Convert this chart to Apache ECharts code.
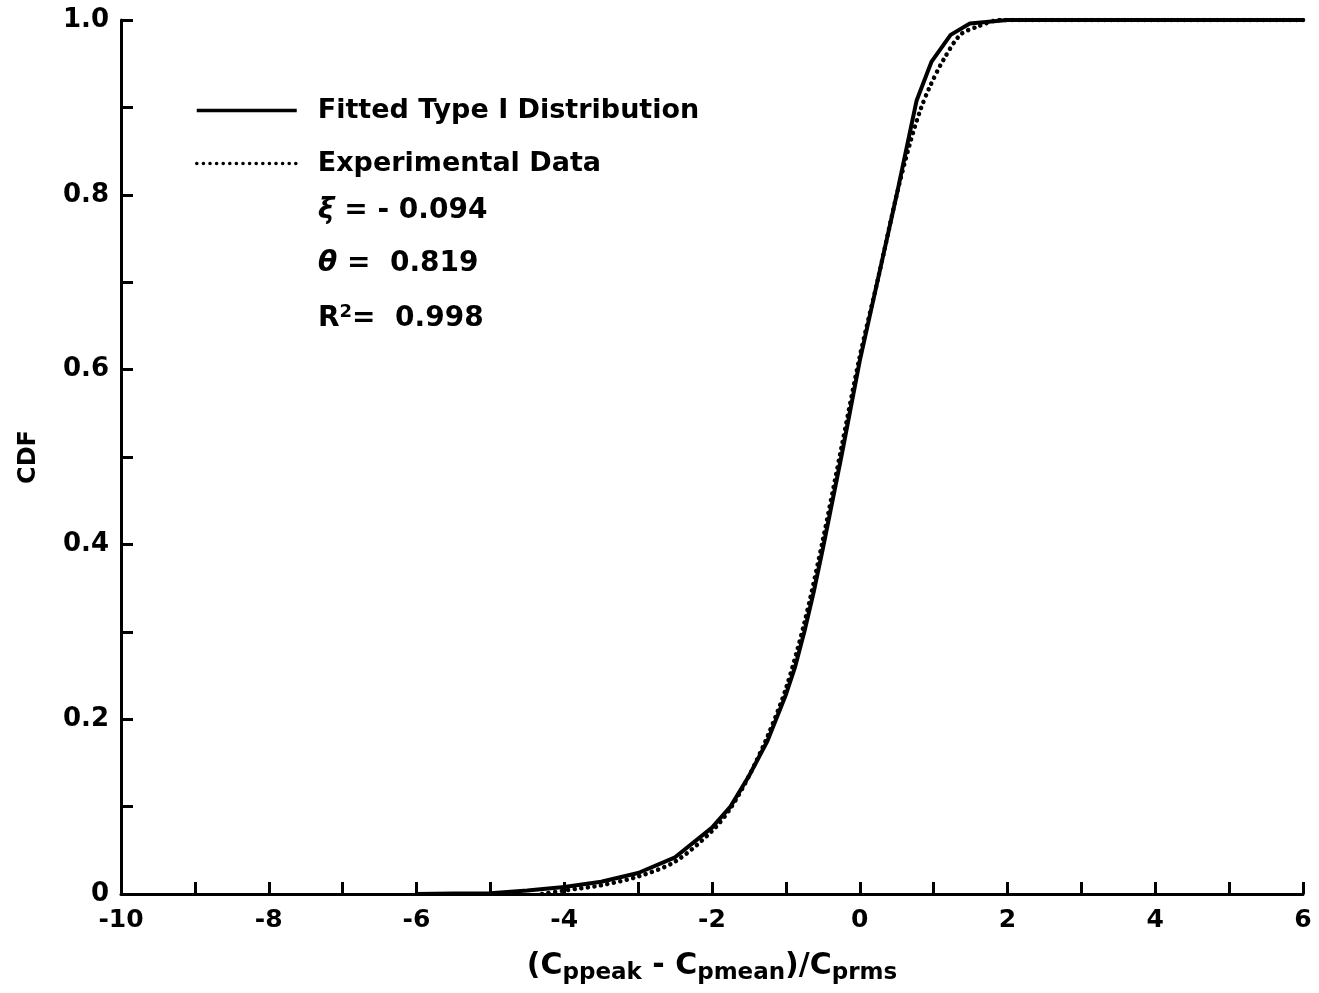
<!DOCTYPE html>
<html>
<head>
<meta charset="utf-8">
<script src="https://cdn.jsdelivr.net/npm/echarts@6/dist/echarts.min.js"></script>
<style>
  html, body { margin: 0; padding: 0; background: #fff; }
  #main { width: 1319px; height: 993px; }
</style>
</head>
<body>
<div id="main"></div>
<script>
// values
const fittedX = [-6, -5.5, -5, -4.5, -4, -3.5, -3, -2.5, -2, -1.75, -1.5, -1.25, -1, -0.875, -0.75, -0.625, -0.5, -0.25, 0, 0.25, 0.5, 0.77, 0.97, 1.23, 1.49, 2, 6];
const fittedY = [0, 0.0005, 0.001, 0.004, 0.008, 0.014, 0.024, 0.042, 0.076, 0.1, 0.135, 0.175, 0.228, 0.26, 0.3, 0.345, 0.395, 0.5, 0.61, 0.705, 0.8, 0.908, 0.952, 0.983, 0.996, 1.0, 1.0];

const expX = [-4.3, -4, -3.5, -3, -2.5, -2, -1.75, -1.5, -1.25, -1, -0.75, -0.5, -0.25, 0, 0.25, 0.5, 0.68, 0.82, 0.95, 1.13, 1.36, 1.58, 1.9, 6];
const expY = [0, 0.004, 0.01, 0.02, 0.037, 0.072, 0.098, 0.135, 0.18, 0.235, 0.31, 0.405, 0.51, 0.615, 0.705, 0.8, 0.859, 0.897, 0.924, 0.954, 0.983, 0.992, 1.0, 1.0];

const params = [
  '{g|ξ} = - 0.094',
  '{g|θ} =  0.819',
  'R{sup|2}=  0.998'
];

const font = 'DejaVu Sans';

const chart = echarts.init(document.getElementById('main'));

const option = {
  backgroundColor: '#fff',
  animation: false,
  grid: { left: 121, right: 16, top: 20, bottom: 99 },
  legend: {
    orient: 'vertical',
    left: 190,
    top: 92,
    itemWidth: 100,
    itemHeight: 14,
    itemGap: 26,
    itemStyle: { opacity: 0 },
    lineStyle: { width: 3.5 },
    textStyle: { fontFamily: font, fontSize: 27, fontWeight: 'bold', color: '#000', padding: [0, 0, 0, 16] },
    data: ['Fitted Type I Distribution', 'Experimental Data']
  },
  xAxis: {
    type: 'value',
    min: -10,
    max: 6,
    interval: 2,
    name: '(C{sub|ppeak} - C{sub|pmean})/C{sub|prms}',
    nameLocation: 'middle',
    nameGap: 53,
    nameTextStyle: {
      fontFamily: font, fontSize: 30, fontWeight: 'bold', color: '#000',
      rich: {
        sub: { fontFamily: font, fontSize: 23, fontWeight: 'bold', padding: [15, 0, 0, 0], verticalAlign: 'bottom' }
      }
    },
    axisLine: { lineStyle: { color: '#000', width: 3 } },
    axisTick: { inside: true, length: 12, lineStyle: { color: '#000', width: 3 } },
    minorTick: { show: true, splitNumber: 2, length: 12, lineStyle: { color: '#000', width: 3 } },
    axisLabel: { fontFamily: font, fontSize: 25, fontWeight: 'bold', color: '#000', margin: 14 },
    splitLine: { show: false }
  },
  yAxis: {
    type: 'value',
    min: 0,
    max: 1,
    interval: 0.2,
    name: 'CDF',
    nameLocation: 'middle',
    nameGap: 80,
    nameTextStyle: { fontFamily: font, fontSize: 24, fontWeight: 'bold', color: '#000' },
    axisLine: { show: true, onZero: false, lineStyle: { color: '#000', width: 3 } },
    axisTick: { show: true, inside: true, length: 12, lineStyle: { color: '#000', width: 3 } },
    minorTick: { show: true, splitNumber: 2, length: 12, lineStyle: { color: '#000', width: 3 } },
    axisLabel: {
      fontFamily: font, fontSize: 26, fontWeight: 'bold', color: '#000', margin: 12,
      formatter: v => (v === 0 ? '0' : v.toFixed(1))
    },
    splitLine: { show: false }
  },
  graphic: params.map((p, i) => ({
    type: 'text',
    left: 318,
    top: 197 + i * 53,
    style: {
      text: p,
      fontFamily: font,
      fontSize: 28,
      fontWeight: 'bold',
      fill: '#000',
      rich: {
        g: { fontFamily: font, fontSize: 28, fontStyle: 'italic', fontWeight: 'bold' },
        sup: { fontFamily: font, fontSize: 18, fontWeight: 'bold', verticalAlign: 'top', padding: [0, 0, 14, 0] }
      }
    }
  })),
  series: [
    {
      name: 'Experimental Data',
      type: 'line',
      symbol: 'none',
      smooth: 0.3,
      data: expX.map((x, i) => [x, expY[i]]),
      lineStyle: { color: '#000', width: 4.5, type: [0.1, 6.5], cap: 'round' },
      itemStyle: { color: '#000' }
    },
    {
      name: 'Fitted Type I Distribution',
      type: 'line',
      symbol: 'none',
      data: fittedX.map((x, i) => [x, fittedY[i]]),
      lineStyle: { color: '#000', width: 4 },
      itemStyle: { color: '#000' }
    }
  ]
};

chart.setOption(option);
</script>
</body>
</html>
